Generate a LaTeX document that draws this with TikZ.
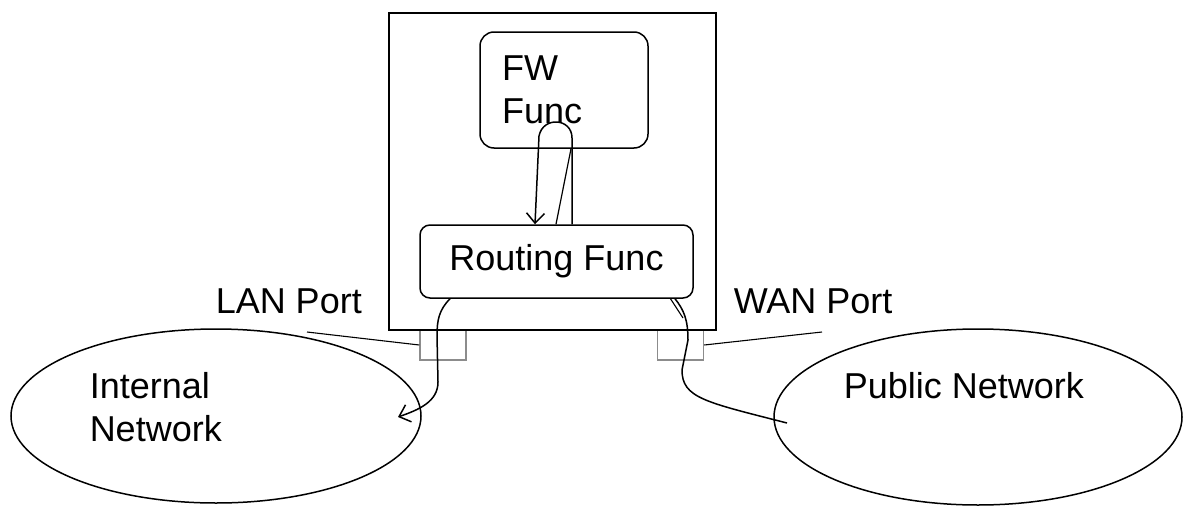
\documentclass[tikz,border=0pt]{standalone}
\usepackage{fontspec}
\setmainfont{Liberation Sans}
\usetikzlibrary{arrows.meta,shapes.geometric}
\begin{document}
\begin{tikzpicture}[x=1pt,y=-1pt,line width=1.5pt,
  every node/.style={inner sep=0pt,font=\fontsize{36}{43}\selectfont},
  func/.style={draw,rounded corners=14pt},
  port/.style={draw=black!45,minimum width=46pt,minimum height=30pt},
  net/.style={draw,ellipse,minimum width=410pt,minimum height=174pt},
  lbl/.style={anchor=base west},
  flow/.style={-{Straight Barb[length=10pt,width=18pt]}}]
\useasboundingbox (0,0) rectangle (1183,506);
\node[port] at(443,345)(lanp){};
\node[port] at(680.5,345)(wanp){};
\node[draw,minimum width=327pt,minimum height=317pt] at(552.5,171.5)(router){};
\node[func,minimum width=168pt,minimum height=116pt,text width=124pt,inner xsep=22pt,align=left] at(564,90)(fw){FW\\Func};
\node[func,rounded corners=10pt,minimum width=273pt,minimum height=73pt] at(556.5,261.5)(rt){Routing Func};
\node[net] at(216,416)(inet){};
\node[net,minimum width=408pt,minimum height=176pt] at(978,417)(pnet){};
\node[anchor=north west,align=left] at(89,372)(intl){Internal\\Network};
\node[lbl] at(843,398)(publ){Public Network};
\node[lbl] at(215,313)(lanl){LAN Port};
\node[lbl] at(733,313)(wanl){WAN Port};
\coordinate (lanend) at(307,332);
\coordinate (wanend) at(822,332);
\draw[line width=1.1pt] (lanend)--(lanp.west);
\draw[line width=1.1pt] (wanp.east)--(wanend);
\draw[flow] ([xshift=15.5pt]rt.north)--(572,138) .. controls (572,118) and (543,116) .. (539,136)--([xshift=-21.5pt]rt.north);
\draw[line width=1.2pt] ([xshift=7pt]fw.south)--([xshift=-0.5pt]rt.north);
\draw[flow] ([xshift=-106.5pt]rt.south) .. controls (439,310) and (437,320) .. (437,336)--(438,382) .. controls (438,402) and (418,410) .. (398,417);
\draw ([xshift=118.5pt]rt.south) .. controls (684,310) and (688,320) .. (688,340)--(682,370) .. controls (682,398) and (705,402) .. (787,423);
\draw[line width=1.1pt] ([xshift=114pt]rt.south)--(683,318);
\end{tikzpicture}
\end{document}
